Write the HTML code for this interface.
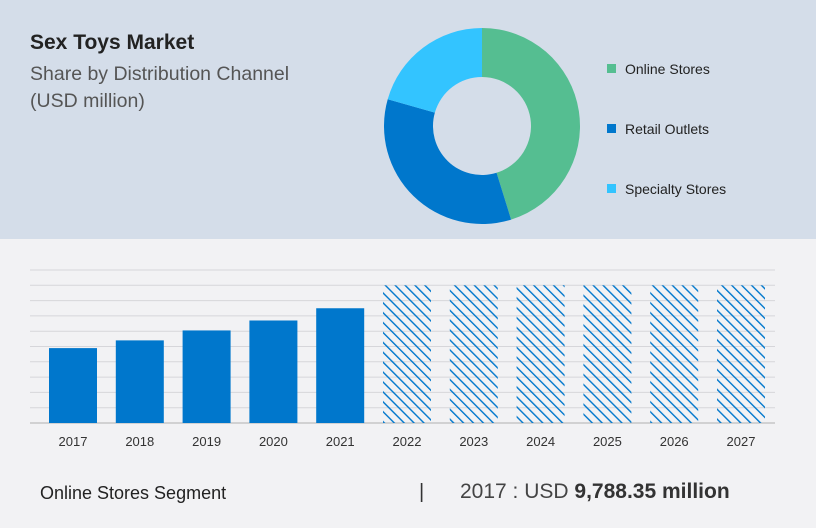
<!DOCTYPE html>
<html><head><meta charset="utf-8"><style>
body{margin:0;width:816px;height:528px;background:#f2f2f4;font-family:"Liberation Sans",sans-serif;position:relative;overflow:hidden}
.top{position:absolute;left:0;top:0;width:816px;height:239px;background:#d4dde9}
.t{position:absolute;color:#222;white-space:nowrap}
</style></head><body>
<div class="top"></div>
<div class="t" style="left:30px;top:31px;font-size:21px;font-weight:bold">Sex Toys Market</div>
<div class="t" style="left:30px;top:61px;font-size:19.5px;color:#555;line-height:27px">Share by Distribution Channel<br>(USD million)</div>
<svg id="s" width="816" height="528" style="position:absolute;left:0;top:0">
<defs><pattern id="h" patternUnits="userSpaceOnUse" width="7" height="7" patternTransform="rotate(-45)"><rect x="0" y="0" width="1.4" height="7" fill="#0077cc"/></pattern></defs>
</svg>
<div class="t" style="left:40px;top:483px;font-size:18px">Online Stores Segment</div>
<div class="t" style="left:419px;top:481px;font-size:20px;color:#333">|</div>
<div class="t" style="left:460px;top:480px;font-size:21px;color:#444">2017 : USD <b style="color:#333">9,788.35 million</b></div>
<script>
const years=["2017","2018","2019","2020","2021","2022","2023","2024","2025","2026","2027"];
const values=[9.79,10.8,12.1,13.4,15.0,18.0,18.0,18.0,18.0,18.0,18.0];
const forecastFrom=5;
const segNames=["Online Stores","Retail Outlets","Specialty Stores"];
const segShares=[45.2,34.2,20.6];
const segColors=["#55be91","#0077cc","#33c4ff"];
const NS="http://www.w3.org/2000/svg",s=document.getElementById('s');
function mk(t,a){const e=document.createElementNS(NS,t);for(const k in a)e.setAttribute(k,a[k]);s.appendChild(e);return e;}
const base=423,yMax=20,plotH=153;
const y=v=>base-v/yMax*plotH;
const x=i=>73+i*66.8;
for(let g=1;g<=10;g++){const l=mk('line',{x1:30,x2:775,y1:y(g*2),y2:y(g*2),stroke:'#d6d6da','stroke-width':1});

}
const ax=mk('line',{x1:30,x2:775,y1:base,y2:base,stroke:'#b0b0b0','stroke-width':1});


values.forEach((v,i)=>{const r=mk('rect',{x:x(i)-24,y:y(v),width:48,height:base-y(v),fill:i>=forecastFrom?'url(#h)':'#0077cc'});


const t=mk('text',{x:x(i),y:446,'text-anchor':'middle','font-size':13,fill:'#333'});t.textContent=years[i];

});
const cx=482,cy=126,R=98,r0=49;let a=0;const tot=segShares.reduce((p,c)=>p+c,0);
function pt(rad,ang){return [cx+rad*Math.sin(ang),cy-rad*Math.cos(ang)];}
segShares.forEach((v,i)=>{const a2=a+v/tot*2*Math.PI,lg=a2-a>Math.PI?1:0;
const [x1,y1]=pt(R,a),[x2,y2]=pt(R,a2),[x3,y3]=pt(r0,a2),[x4,y4]=pt(r0,a);
const p=mk('path',{d:`M${x1} ${y1}A${R} ${R} 0 ${lg} 1 ${x2} ${y2}L${x3} ${y3}A${r0} ${r0} 0 ${lg} 0 ${x4} ${y4}Z`,fill:segColors[i]});

a=a2;
const ly=69+i*60;
const sq=mk('rect',{x:607,y:ly-5,width:9,height:9,fill:segColors[i]});


const lt=mk('text',{x:625,y:ly+5,'font-size':14,fill:'#222'});lt.textContent=segNames[i];

});
</script>
</body></html>
